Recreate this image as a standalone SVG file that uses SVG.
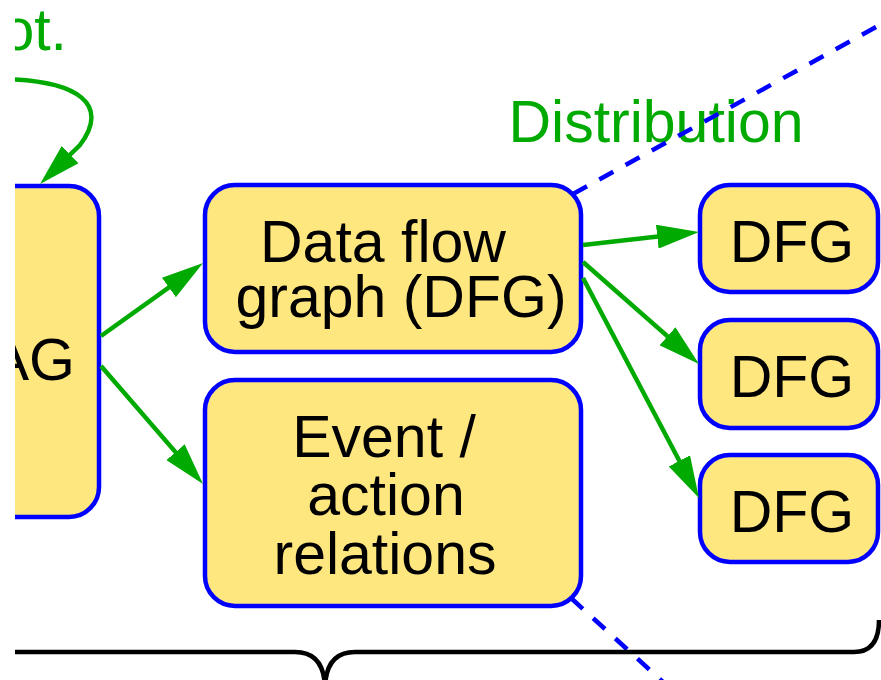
<svg xmlns="http://www.w3.org/2000/svg" width="881" height="680" viewBox="0 0 881 680">
  <style>
    .node rect { fill: #FFE780; stroke: #0000FF; stroke-width: 4.5; }
    .node text { font-family: "Liberation Sans", Arial, sans-serif; font-size: 59px; fill: #000000; text-anchor: middle; }
    .label { font-family: "Liberation Sans", Arial, sans-serif; font-size: 59px; fill: #00AA00; }
    .flow { fill: none; stroke: #00AA00; stroke-width: 4.5; marker-end: url(#arrow); }
    .zoom { fill: none; stroke: #0000FF; stroke-width: 4.5; stroke-dasharray: 16 14; }
    .brace { fill: none; stroke: #000000; stroke-width: 4.5; }
  </style>
  <defs>
    <clipPath id="view">
      <rect x="15" y="0" width="866" height="680"/>
    </clipPath>
    <marker id="arrow" markerUnits="userSpaceOnUse" markerWidth="43" markerHeight="24" refX="32" refY="12" orient="auto">
      <path d="M0,0 L42,12 L0,24 z" fill="#00AA00"/>
    </marker>
  </defs>
  <rect width="881" height="680" fill="#FFFFFF"/>
  <g clip-path="url(#view)">
    <!-- labels -->
    <text class="label" x="67" y="50" text-anchor="end">ot.</text>
    <text class="label" x="656" y="142" text-anchor="middle">Distribution</text>

    <!-- zoom-out guide lines -->
    <g id="guides">
      <path class="zoom" d="M573,194 L905,11"/>
      <path class="zoom" d="M571,598 L675,693"/>
    </g>

    <!-- nodes -->
    <g id="dag" class="node">
      <rect x="-120" y="186" width="219" height="331" rx="30"/>
      <text x="75" y="380" style="text-anchor:end">AG</text>
    </g>
    <g id="dfg-main" class="node">
      <rect x="205" y="185" width="376" height="167" rx="30"/>
      <text x="383" y="262">Data flow</text>
      <text x="401" y="317">graph (DFG)</text>
    </g>
    <g id="events" class="node">
      <rect x="205" y="380" width="376" height="226" rx="30"/>
      <text x="384" y="457">Event /</text>
      <text x="386" y="515">action</text>
      <text x="385" y="574">relations</text>
    </g>
    <g id="dfg-1" class="node">
      <rect x="700" y="185" width="178" height="107" rx="30"/>
      <text x="792" y="262">DFG</text>
    </g>
    <g id="dfg-2" class="node">
      <rect x="700" y="320" width="178" height="108" rx="30"/>
      <text x="792" y="397">DFG</text>
    </g>
    <g id="dfg-3" class="node">
      <rect x="700" y="455" width="178" height="107" rx="30"/>
      <text x="792" y="532">DFG</text>
    </g>

    <!-- connectors -->
    <g id="connectors">
      <path class="flow" d="M0,79 C80,80 110,105 80,145 L47.2,177"/>
      <path class="flow" d="M101,336 L194.9,268.8"/>
      <path class="flow" d="M101,366 L196.5,476.4"/>
      <path class="flow" d="M583,245 L689.1,233.1"/>
      <path class="flow" d="M583,262 L691.5,357.4"/>
      <path class="flow" d="M583,278 L694.3,489.2"/>
    </g>

    <!-- brace under the layers -->
    <g id="brace">
      <path class="brace" d="M10,652 L295,652 C315,652 325,665 325,690"/>
      <path class="brace" d="M325,690 C325,665 335,652 355,652 L854,652 C872,652 879,640 879,620"/>
    </g>
  </g>
</svg>
